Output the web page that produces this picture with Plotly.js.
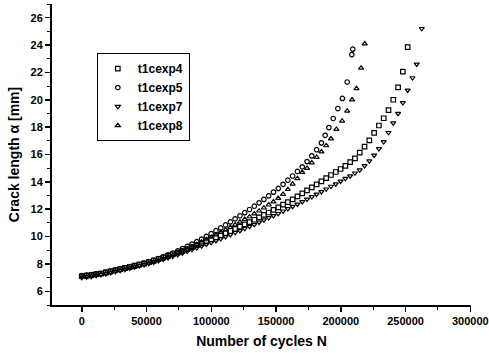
<!DOCTYPE html>
<html>
<head>
<meta charset="utf-8">
<script src="https://cdn.plot.ly/plotly-3.0.1.min.js"></script>
<style>html,body{margin:0;padding:0;background:#fff;}#chart{width:489px;height:353px;}</style>
</head>
<body>
<div id="chart"></div>
<script>
// Series names
var names = ["t1cexp4", "t1cexp5", "t1cexp7", "t1cexp8"];

// t1cexp4 (open squares)
var n_exp4 = [0,3700,7400,11100,14800,18500,22200,25900,29600,33300,37000,40700,44400,48100,51800,55500,59200,62900,66600,70300,74000,77700,81400,85100,88800,92500,96200,99900,103600,107300,111000,114700,118400,122100,125800,129500,133200,136900,140600,144300,148000,151700,155400,159100,162800,166500,170200,173900,177600,181300,185000,188700,192400,196100,199800,203500,207200,210900,214600,218300,222000,225700,229400,233100,236800,240500,244200,247900,251600];
var a_exp4 = [7.10,7.14,7.19,7.25,7.30,7.38,7.46,7.54,7.62,7.71,7.79,7.88,7.96,8.04,8.13,8.24,8.35,8.47,8.59,8.71,8.83,8.96,9.09,9.23,9.37,9.51,9.65,9.78,9.94,10.09,10.25,10.41,10.57,10.73,10.89,11.06,11.23,11.40,11.58,11.76,11.95,12.13,12.33,12.52,12.72,12.94,13.16,13.38,13.60,13.82,14.04,14.27,14.50,14.72,14.94,15.17,15.44,15.72,16.13,16.57,17.03,17.58,18.12,18.65,19.24,20.00,20.90,22.05,23.85];

// t1cexp5 (open circles)
var n_exp5 = [0,3700,7400,11100,14800,18500,22200,25900,29600,33300,37000,40700,44400,48100,51800,55500,59200,62900,66600,70300,74000,77700,81400,85100,88800,92500,96200,99900,103600,107300,111000,114700,118400,122100,125800,129500,133200,136900,140600,144300,148000,151700,155400,159100,162800,166500,170200,173900,177600,181300,185000,187900,190800,194100,197700,201200,204900,208500,209200];
var a_exp5 = [7.15,7.18,7.22,7.27,7.31,7.40,7.48,7.57,7.63,7.72,7.80,7.88,7.97,8.06,8.16,8.28,8.40,8.52,8.67,8.80,8.95,9.12,9.28,9.45,9.63,9.82,10.02,10.22,10.43,10.63,10.85,11.07,11.30,11.52,11.75,11.98,12.22,12.47,12.72,12.98,13.25,13.52,13.82,14.12,14.43,14.76,15.10,15.48,15.90,16.35,16.85,17.40,17.97,18.63,19.36,20.10,21.30,23.30,23.70];

// t1cexp7 (open down-triangles)
var n_exp7 = [0,3700,7400,11100,14800,18500,22200,25900,29600,33300,37000,40700,44400,48100,51800,55500,59200,62900,66600,70300,74000,77700,81400,85100,88800,92500,96200,99900,103600,107300,111000,114700,118400,122100,125800,129500,133200,136900,140600,144300,148000,151700,155400,159100,162800,166500,170200,173900,177600,181300,185000,188700,192400,196100,199800,203500,207200,210900,214600,218300,222000,225700,229400,233100,236800,240500,244200,247900,251600,255300,258600,262500];
var a_exp7 = [7.00,7.04,7.09,7.15,7.21,7.28,7.36,7.44,7.52,7.60,7.68,7.77,7.86,7.94,8.03,8.13,8.24,8.35,8.46,8.57,8.68,8.80,8.92,9.05,9.18,9.31,9.44,9.56,9.70,9.84,9.99,10.14,10.29,10.43,10.59,10.74,10.89,11.05,11.21,11.37,11.53,11.68,11.86,12.03,12.20,12.37,12.55,12.73,12.91,13.10,13.28,13.47,13.67,13.85,14.05,14.24,14.43,14.64,14.86,15.18,15.52,15.95,16.42,16.93,17.60,18.30,19.00,19.78,20.70,21.60,22.60,25.20];

// t1cexp8 (open up-triangles)
var n_exp8 = [0,3700,7400,11100,14800,18500,22200,25900,29600,33300,37000,40700,44400,48100,51800,55500,59200,62900,66600,70300,74000,77700,81400,85100,88800,92500,96200,99900,103600,107300,111000,114700,118400,122100,125800,129500,133200,136900,140600,144300,148000,151700,155400,159100,162800,166500,170200,173900,177600,181300,185000,188700,192400,196600,201000,204900,208700,212100,215600,218500];
var a_exp8 = [7.05,7.08,7.13,7.18,7.24,7.30,7.38,7.46,7.53,7.61,7.69,7.77,7.86,7.95,8.05,8.16,8.27,8.39,8.52,8.65,8.80,8.95,9.10,9.26,9.43,9.60,9.78,9.96,10.13,10.31,10.49,10.68,10.87,11.06,11.26,11.46,11.67,11.88,12.10,12.32,12.55,12.80,13.10,13.45,13.85,14.25,14.70,15.00,15.40,15.80,16.20,16.65,17.15,17.85,18.45,19.18,20.00,20.82,22.32,24.10];

// Axis ticks
var xTicks = [0, 50000, 100000, 150000, 200000, 250000, 300000];
var yTicks = [6, 8, 10, 12, 14, 16, 18, 20, 22, 24, 26];

var symbols = ["square-open", "circle-open", "triangle-down-open", "triangle-up-open"];
var xs = [n_exp4, n_exp5, n_exp7, n_exp8];
var ys = [a_exp4, a_exp5, a_exp7, a_exp8];

var traces = names.map(function (nm, i) {
  return {
    type: "scatter", mode: "markers", name: nm,
    x: xs[i], y: ys[i],
    marker: { symbol: symbols[i], size: 4.5, color: "#000", line: { width: 1.2, color: "#000" } }
  };
});

var FAM = "Liberation Sans, Arial, sans-serif";
var tickFont = { family: FAM, size: 11, color: "#000", weight: "bold" };
var titleFont = { family: FAM, size: 14, color: "#000", weight: "bold" };

var layout = {
  width: 489, height: 353,
  margin: { l: 52, r: 18, t: 4, b: 48 },
  paper_bgcolor: "#fff", plot_bgcolor: "#fff",
  showlegend: true,
  legend: {
    x: 0.107, y: 0.837, xanchor: "left", yanchor: "top",
    bordercolor: "#000", borderwidth: 1, bgcolor: "#fff",
    font: { family: FAM, size: 12, color: "#000", weight: "bold" },
    itemwidth: 30
  },
  xaxis: {
    range: [-23000, 300500],
    tickvals: xTicks, ticktext: xTicks.map(String),
    showgrid: false, zeroline: false,
    showline: true, linecolor: "#000", linewidth: 2,
    ticks: "outside", ticklen: 5, tickwidth: 1.5, tickcolor: "#000",
    minor: { dtick: 25000, tick0: 0, ticks: "outside", ticklen: 3, tickwidth: 1, tickcolor: "#000", showgrid: false },
    tickfont: tickFont,
    title: { text: "Number of cycles N", font: titleFont, standoff: 10 }
  },
  yaxis: {
    range: [5, 27],
    tickvals: yTicks, ticktext: yTicks.map(String),
    showgrid: false, zeroline: false,
    showline: true, linecolor: "#000", linewidth: 2,
    ticks: "outside", ticklen: 5, tickwidth: 1.5, tickcolor: "#000",
    minor: { dtick: 1, tick0: 5, ticks: "outside", ticklen: 3, tickwidth: 1, tickcolor: "#000", showgrid: false },
    tickfont: tickFont,
    title: { text: "Crack length α [mm]", font: titleFont, standoff: 8 }
  }
};

Plotly.newPlot("chart", traces, layout, { displayModeBar: false, staticPlot: true });
</script>
</body>
</html>
